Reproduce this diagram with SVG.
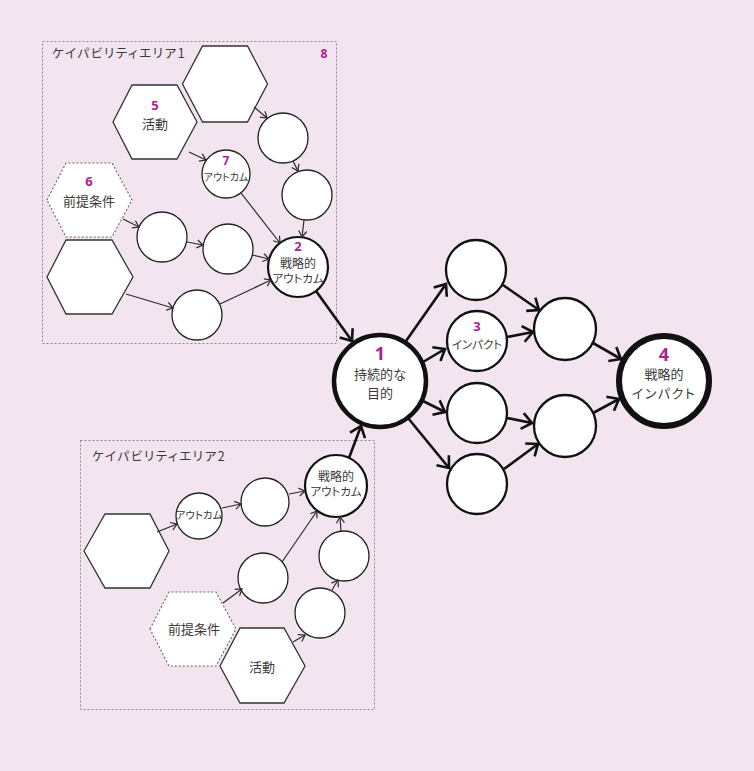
<svg xmlns="http://www.w3.org/2000/svg" width="754" height="771" viewBox="0 0 754 771">
<defs>
<style>
.bg{fill:#f2e5f0}
.area{fill:none;stroke:#8a8a8a;stroke-width:1;stroke-dasharray:2 2}
.hex{fill:#fff;stroke:#333;stroke-width:1.3}
.hexd{fill:#fff;stroke:#666;stroke-width:1.1;stroke-dasharray:2 2}
.cs{fill:#fff;stroke:#222;stroke-width:1.3}
.cm{fill:#fff;stroke:#111;stroke-width:2.3}
.cb2{fill:#fff;stroke:#111;stroke-width:2.2}
.c1{fill:#fff;stroke:#111;stroke-width:4.5}
.c4{fill:#fff;stroke:#111;stroke-width:6}
.thin{fill:none;stroke:#2a2a2a;stroke-width:1.2;marker-end:url(#ahs)}
.thick{fill:none;stroke:#111;stroke-width:2.6;marker-end:url(#ahb)}
text{font-family:"Noto Sans CJK JP","Noto Sans",sans-serif;fill:#3a3a3a;text-anchor:middle;font-feature-settings:"palt" 1}
.num{font-family:"Noto Sans","Liberation Sans",sans-serif;font-weight:bold;fill:#b01e8e}
.title{text-anchor:start;font-size:12.5px;letter-spacing:1.6px}
</style>
<marker id="ahs" viewBox="0 0 10 10" refX="9" refY="5" markerWidth="10" markerHeight="10" markerUnits="userSpaceOnUse" orient="auto">
<path d="M3,1 L9,5 L3,9" fill="none" stroke="#2a2a2a" stroke-width="1.2"/>
</marker>
<marker id="ahb" viewBox="0 0 20 20" refX="18" refY="10" markerWidth="20" markerHeight="20" markerUnits="userSpaceOnUse" orient="auto">
<path d="M8,2 L18,10 L8,18" fill="none" stroke="#111" stroke-width="2.6"/>
</marker>
</defs>
<rect class="bg" x="0" y="0" width="754" height="771"/>

<g id="area1">
<rect class="area" x="42.5" y="41.5" width="294" height="302"/>
<text class="title" x="52" y="58">ケイパビリティエリア1</text>
<text class="num" x="324" y="58" font-size="12">8</text>
</g>
<g id="area2">
<rect class="area" x="80.5" y="440.5" width="294" height="269"/>
<text class="title" x="92" y="461">ケイパビリティエリア2</text>
</g>

<!-- Area 1 nodes -->
<g id="hex-top"><polygon class="hex" points="182.5,84 202.5,46 247.5,46 267.5,84 247.5,122 202.5,122"/></g>
<g id="hex-activity1"><polygon class="hex" points="113,122 132,85 177,85 197,122 177,159 132,159"/>
<text class="num" x="155" y="110" font-size="13">5</text>
<text x="155" y="129" font-size="13">活動</text></g>
<g id="hex-premise1"><polygon class="hexd" points="47,200 66,163 112,163 132,200 112,237 66,237"/>
<text class="num" x="89" y="186" font-size="13">6</text>
<text x="89" y="206" font-size="13">前提条件</text></g>
<g id="hex-lower1"><polygon class="hex" points="47,277 66,240 112,240 133,277 112,314 66,314"/></g>
<g id="outcome7"><circle class="cs" cx="226" cy="174" r="24"/>
<text class="num" x="226" y="165" font-size="12">7</text>
<text x="226" y="181" font-size="10">アウトカム</text></g>
<g id="c1a"><circle class="cs" cx="283" cy="138" r="25"/></g>
<g id="c1b"><circle class="cs" cx="307" cy="195" r="25"/></g>
<g id="c1c"><circle class="cs" cx="162" cy="237" r="25"/></g>
<g id="c1d"><circle class="cs" cx="228" cy="249" r="25"/></g>
<g id="c1e"><circle class="cs" cx="197" cy="315" r="25"/></g>
<g id="strategic-outcome1"><circle class="cb2" cx="298" cy="267" r="30"/>
<text class="num" x="298" y="251" font-size="13">2</text>
<text x="298" y="268" font-size="12">戦略的</text>
<text x="298" y="283" font-size="11.5">アウトカム</text></g>

<!-- Central & right -->
<g id="goal"><circle class="c1" cx="380" cy="381" r="46"/>
<text class="num" x="380" y="360" font-size="18">1</text>
<text x="380" y="379" font-size="13">持続的な</text>
<text x="380" y="398" font-size="13">目的</text></g>
<g id="r1"><circle class="cm" cx="476" cy="270" r="30"/></g>
<g id="impact3"><circle class="cm" cx="477" cy="341" r="30"/>
<text class="num" x="477" y="331" font-size="13">3</text>
<text x="477" y="349" font-size="11.5">インパクト</text></g>
<g id="r3"><circle class="cm" cx="477" cy="413" r="30"/></g>
<g id="r4"><circle class="cm" cx="477" cy="484" r="30"/></g>
<g id="m1"><circle class="cm" cx="565" cy="329" r="31"/></g>
<g id="m2"><circle class="cm" cx="565" cy="426" r="31"/></g>
<g id="strategic-impact4"><circle class="c4" cx="664" cy="381" r="45"/>
<text class="num" x="664" y="361" font-size="18">4</text>
<text x="664" y="379" font-size="13">戦略的</text>
<text x="664" y="398" font-size="13" letter-spacing="1.5">インパクト</text></g>

<!-- Area 2 nodes -->
<g id="hex-left2"><polygon class="hex" points="84,551 105,514 150,514 169,551 150,588 105,588"/></g>
<g id="hex-premise2"><polygon class="hexd" points="150,629 169,592 216,592 236,629 216,666 169,666"/>
<text x="194" y="634" font-size="13">前提条件</text></g>
<g id="hex-activity2"><polygon class="hex" points="220,666 240,628 284,628 305,666 284,703 240,703"/>
<text x="262" y="672" font-size="13">活動</text></g>
<g id="outcome2"><circle class="cs" cx="199" cy="516" r="23"/>
<text x="199" y="519" font-size="10.5">アウトカム</text></g>
<g id="b2a"><circle class="cs" cx="265" cy="502" r="24"/></g>
<g id="strategic-outcome2"><circle class="cb2" cx="336" cy="486" r="31"/>
<text x="336" y="481" font-size="12">戦略的</text>
<text x="336" y="496" font-size="11.5">アウトカム</text></g>
<g id="b2b"><circle class="cs" cx="344" cy="556" r="25"/></g>
<g id="b2c"><circle class="cs" cx="263" cy="578" r="25"/></g>
<g id="b2d"><circle class="cs" cx="320" cy="613" r="25"/></g>

<g id="connectors">
<line class="thin" x1="254" y1="107" x2="267" y2="118"/>
<line class="thin" x1="293" y1="161" x2="298" y2="171"/>
<line class="thin" x1="304" y1="220" x2="302" y2="237"/>
<line class="thin" x1="189" y1="152" x2="206" y2="160"/>
<line class="thin" x1="241" y1="193" x2="280" y2="243"/>
<line class="thin" x1="123" y1="219" x2="139" y2="227"/>
<line class="thin" x1="187" y1="242" x2="203" y2="245"/>
<line class="thin" x1="252" y1="255" x2="269" y2="259"/>
<line class="thin" x1="126" y1="294" x2="173" y2="308"/>
<line class="thin" x1="220" y1="304" x2="271" y2="280"/>

<line class="thin" x1="157" y1="532" x2="177" y2="524"/>
<line class="thin" x1="222" y1="508" x2="241" y2="504"/>
<line class="thin" x1="289" y1="494" x2="305" y2="491"/>
<line class="thin" x1="282" y1="562" x2="317" y2="511"/>
<line class="thin" x1="341" y1="531" x2="340" y2="517"/>
<line class="thin" x1="223" y1="603" x2="242" y2="589"/>
<line class="thin" x1="293" y1="642" x2="305" y2="635"/>
<line class="thin" x1="332" y1="590" x2="338" y2="580"/>

<line class="thick" x1="316" y1="291" x2="352" y2="341"/>
<line class="thick" x1="349" y1="458" x2="361" y2="426"/>
<line class="thick" x1="406" y1="341" x2="446" y2="284"/>
<line class="thick" x1="423" y1="362" x2="445" y2="349"/>
<line class="thick" x1="423" y1="401" x2="445" y2="412"/>
<line class="thick" x1="408" y1="418" x2="449" y2="468"/>
<line class="thick" x1="503" y1="285" x2="539" y2="310"/>
<line class="thick" x1="507" y1="337" x2="533" y2="332"/>
<line class="thick" x1="593" y1="343" x2="621" y2="359"/>
<line class="thick" x1="507" y1="418" x2="532" y2="423"/>
<line class="thick" x1="504" y1="469" x2="538" y2="444"/>
<line class="thick" x1="593" y1="413" x2="619" y2="399"/>
</g>
</svg>
